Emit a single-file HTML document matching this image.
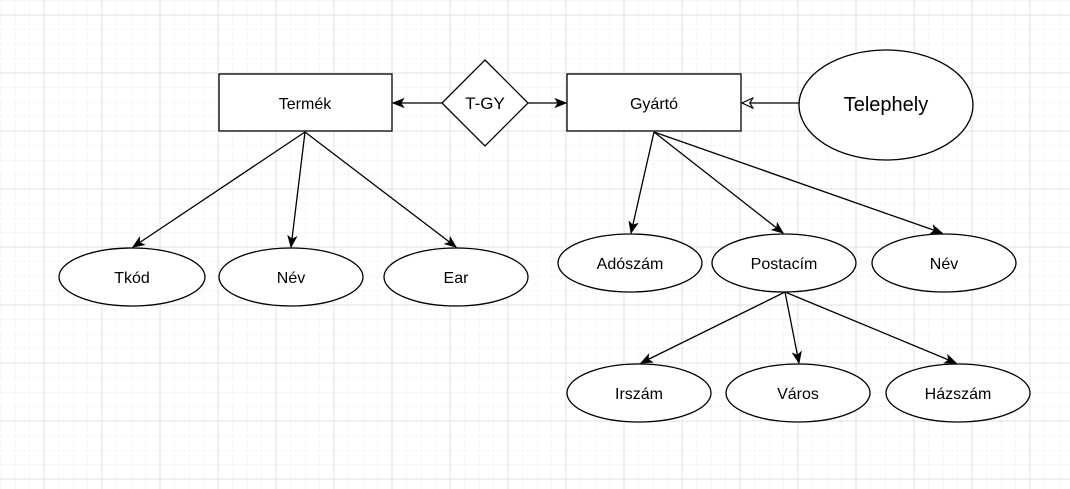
<!DOCTYPE html>
<html><head><meta charset="utf-8"><style>
html,body{margin:0;padding:0;background:#fff;width:1070px;height:489px;overflow:hidden}
svg text{font-family:"Liberation Sans",Arial,sans-serif;font-size:16px;fill:#000}
</style></head><body>
<svg width="1070" height="489" viewBox="0 0 1070 489" xmlns="http://www.w3.org/2000/svg">
<defs>
<pattern id="minor" x="44" y="15" width="14.5" height="14.5" patternUnits="userSpaceOnUse">
<path d="M0 0H14.5M0 0V14.5" stroke="#f0f0f0" stroke-width="1" fill="none"/>
</pattern>
<pattern id="major" x="43.5" y="14.5" width="58" height="58" patternUnits="userSpaceOnUse">
<path d="M0 0.5H58M0.5 0V58" stroke="#e2e2e2" stroke-width="1" fill="none"/>
</pattern>
<marker id="a" viewBox="0 0 10 10" refX="9" refY="5" markerWidth="13" markerHeight="13" orient="auto" markerUnits="userSpaceOnUse">
<path d="M0 1L10 5L0 9L2.5 5Z" fill="#000"/>
</marker>
<marker id="o" viewBox="0 0 10 10" refX="9" refY="5" markerWidth="13" markerHeight="13" orient="auto" markerUnits="userSpaceOnUse">
<path d="M0.5 1L9 5L0.5 9L3 5Z" fill="#fff" stroke="#000" stroke-width="0.9"/>
</marker>
</defs>
<rect width="1070" height="489" fill="url(#minor)"/>
<rect width="1070" height="489" fill="url(#major)"/>
<g stroke="#000" stroke-width="1.3" fill="none">
<line x1="442" y1="103" x2="393" y2="103" marker-end="url(#a)"/>
<line x1="528" y1="103" x2="566" y2="103" marker-end="url(#a)"/>
<line x1="799" y1="103" x2="742" y2="103" marker-end="url(#o)"/>
<line x1="305" y1="132" x2="133" y2="247" marker-end="url(#a)"/>
<line x1="305" y1="132" x2="291" y2="247" marker-end="url(#a)"/>
<line x1="305" y1="132" x2="456" y2="247" marker-end="url(#a)"/>
<line x1="654" y1="132" x2="631" y2="233" marker-end="url(#a)"/>
<line x1="654" y1="132" x2="783" y2="233" marker-end="url(#a)"/>
<line x1="654" y1="132" x2="942" y2="233" marker-end="url(#a)"/>
<line x1="785" y1="292" x2="641" y2="363" marker-end="url(#a)"/>
<line x1="785" y1="292" x2="799" y2="363" marker-end="url(#a)"/>
<line x1="785" y1="292" x2="956" y2="363" marker-end="url(#a)"/>
</g>
<g stroke="#000" stroke-width="1.3" fill="#fff">
<rect x="219" y="74" width="173" height="57"/>
<polygon points="485,60 528,103 485,146 442,103"/>
<rect x="567" y="74" width="174" height="57"/>
<ellipse cx="886" cy="105" rx="87" ry="55"/>
<ellipse cx="132" cy="277" rx="73" ry="29"/>
<ellipse cx="291" cy="277" rx="72" ry="29"/>
<ellipse cx="456" cy="277" rx="72" ry="29"/>
<ellipse cx="630" cy="263" rx="72" ry="29"/>
<ellipse cx="784" cy="263" rx="72" ry="29"/>
<ellipse cx="944" cy="263" rx="72" ry="29"/>
<ellipse cx="639" cy="393" rx="72" ry="29"/>
<ellipse cx="798" cy="393" rx="72" ry="29"/>
<ellipse cx="958" cy="393" rx="72" ry="29"/>
</g>
<g text-anchor="middle">
<text x="305" y="109" font-size="15">Termék</text>
<text x="485" y="109" style="font-size:17px">T-GY</text>
<text x="654" y="109" font-size="15">Gyártó</text>
<text x="886" y="111" style="font-size:20px">Telephely</text>
<text x="132" y="283">Tkód</text>
<text x="291" y="283">Név</text>
<text x="456" y="283">Ear</text>
<text x="630" y="269">Adószám</text>
<text x="784" y="269">Postacím</text>
<text x="944" y="269">Név</text>
<text x="639" y="399">Irszám</text>
<text x="798" y="399">Város</text>
<text x="958" y="399">Házszám</text>
</g>
</svg>
</body></html>
